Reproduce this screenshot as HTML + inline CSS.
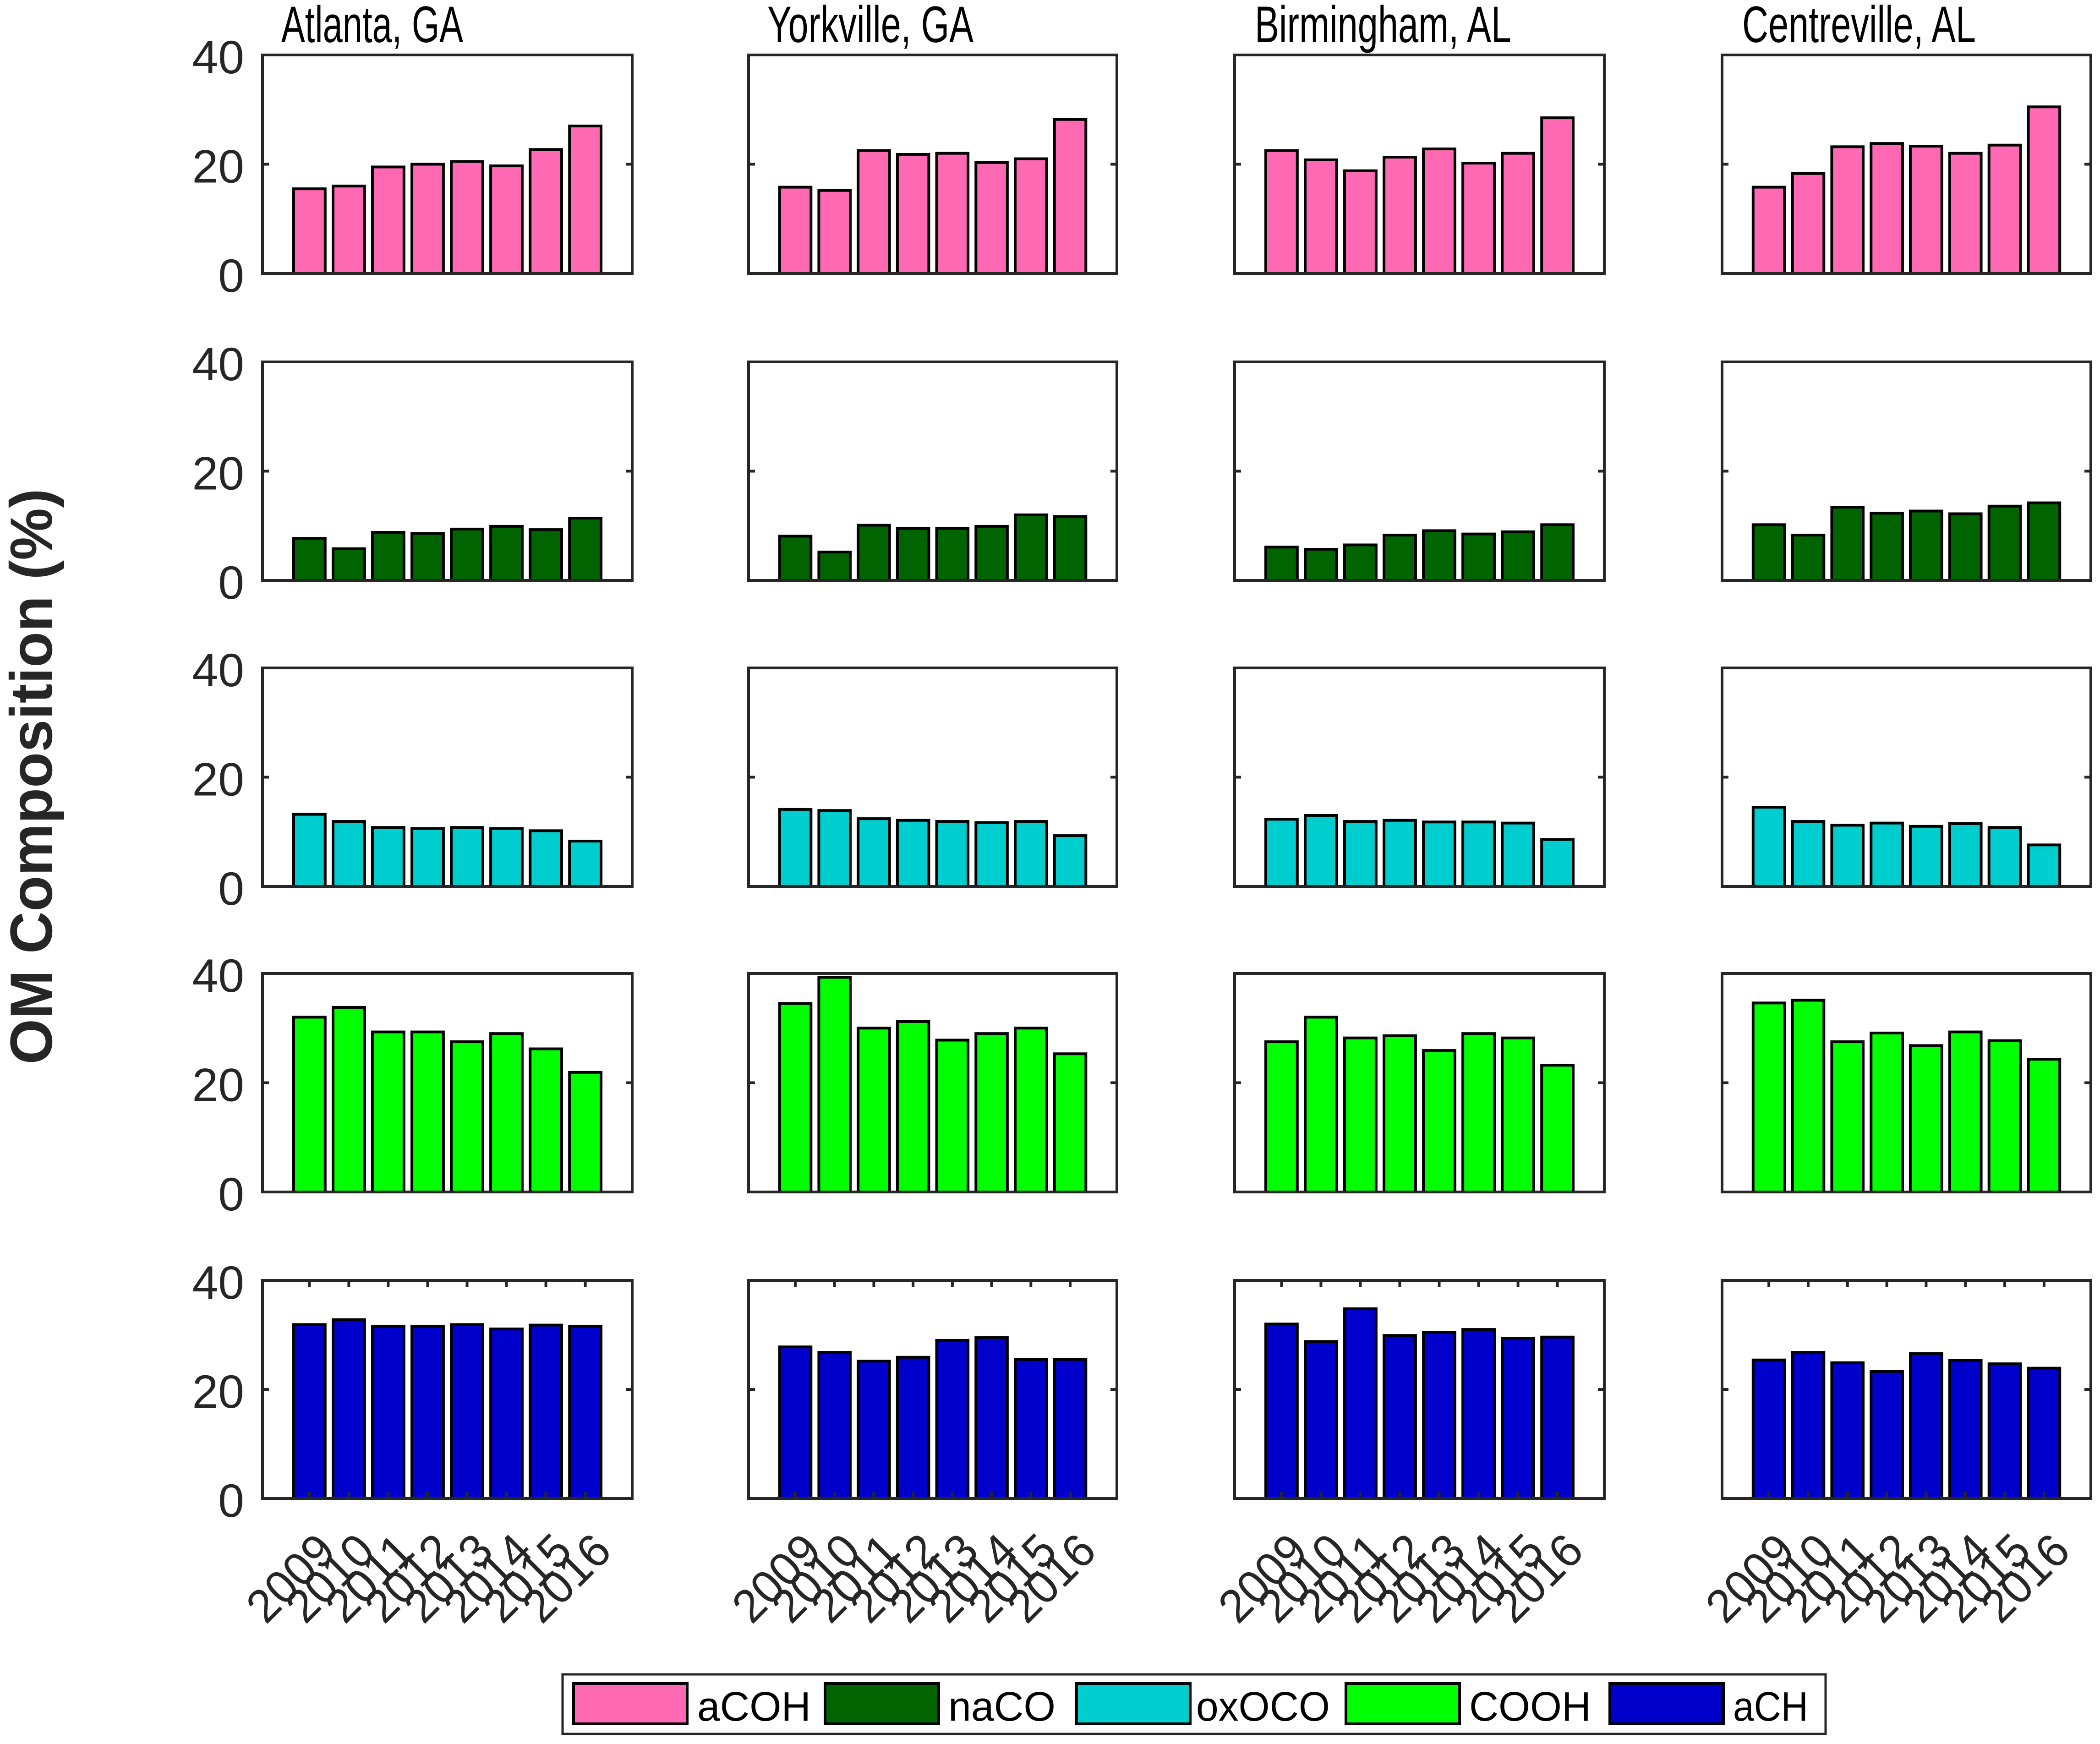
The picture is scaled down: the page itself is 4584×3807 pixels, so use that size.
<!DOCTYPE html>
<html><head><meta charset="utf-8">
<style>
html,body{margin:0;padding:0;background:#fff;}
svg{display:block;font-family:"Liberation Sans",Arial,sans-serif;}
</style></head>
<body>
<svg id="chart" width="4584" height="3807" viewBox="0 0 4584 3807" xmlns="http://www.w3.org/2000/svg">
<text x="0" y="0" transform="translate(113,1695) rotate(-90)" text-anchor="middle" font-size="130" font-weight="bold" fill="#262626" textLength="1257" lengthAdjust="spacingAndGlyphs">OM Composition (%)</text>
<g id="panels"></g>
<g id="legend"></g>
</svg>
<script>
const years = ["2009","2010","2011","2012","2013","2014","2015","2016"];
const sites = ["Atlanta, GA","Yorkville, GA","Birmingham, AL","Centreville, AL"];
const groups = ["aCOH","naCO","oxOCO","COOH","aCH"];
const yTicks = [0,20,40];
const aCOH = [
 [15.5,16,19.5,20,20.5,19.7,22.7,27],
 [15.8,15.2,22.5,21.8,22,20.3,21,28.2],
 [22.5,20.8,18.8,21.3,22.8,20.2,22,28.5],
 [15.8,18.3,23.2,23.8,23.3,22,23.5,30.5]];
const naCO = [
 [7.7,5.8,8.8,8.6,9.4,9.9,9.3,11.4],
 [8.1,5.2,10.1,9.5,9.5,9.9,12,11.7],
 [6.1,5.7,6.5,8.3,9.1,8.5,8.9,10.2],
 [10.2,8.3,13.4,12.3,12.7,12.2,13.6,14.2]];
const oxOCO = [
 [13.2,11.9,10.8,10.6,10.8,10.6,10.2,8.3],
 [14.1,13.9,12.4,12.1,11.9,11.7,11.9,9.3],
 [12.3,13,11.9,12.1,11.8,11.8,11.6,8.6],
 [14.5,11.9,11.2,11.6,11,11.5,10.8,7.6]];
const COOH = [
 [32,33.8,29.3,29.3,27.5,29,26.2,21.9],
 [34.5,39.3,30,31.2,27.8,29,30,25.3],
 [27.5,32,28.2,28.6,25.9,29,28.2,23.2],
 [34.6,35.1,27.5,29.1,26.8,29.3,27.7,24.3]];
const aCH = [
 [31.9,32.8,31.6,31.6,31.9,31.1,31.8,31.6],
 [27.8,26.8,25.2,25.9,29,29.5,25.5,25.5],
 [32,28.8,34.8,29.9,30.5,31,29.4,29.6],
 [25.4,26.8,24.9,23.3,26.6,25.3,24.7,23.9]];
const seriesData = [aCOH,naCO,oxOCO,COOH,aCH];
const colors = ["#ff69b4","#006400","#00cdcd","#00ff00","#0000cd"];

const NS="http://www.w3.org/2000/svg";
function mk(tag,attrs,parent){const e=document.createElementNS(NS,tag);for(const k in attrs)e.setAttribute(k,attrs[k]);parent.appendChild(e);return e;}
const colX=[[573,1380],[1634,2438],[2695,3502],[3759,4564]];
const rowY=[[120,597],[790,1267],[1458,1935],[2125,2602],[2795,3271]];
const XMIN=-0.19, XMAX=9.19, YMAX=40;
const panels=document.getElementById('panels');
for(let r=0;r<5;r++){for(let c=0;c<4;c++){
  const [x0,x1]=colX[c],[y0,y1]=rowY[r];
  const xs=v=>x0+(v-XMIN)/(XMAX-XMIN)*(x1-x0);
  const ys=v=>y1-v/YMAX*(y1-y0);
  const g=mk('g',{},panels);
  
  
  const vals=seriesData[r][c];
  const bw=0.8*(xs(2)-xs(1));
  vals.forEach((v,i)=>{
    const b=mk('rect',{x:xs(i+1)-bw/2,y:ys(v),width:bw,height:ys(0)-ys(v),fill:colors[r],stroke:'#000','stroke-width':6},g);
    
    
  });
  yTicks.forEach(t=>{
    mk('line',{x1:x0,x2:x0+14,y1:ys(t),y2:ys(t),stroke:'#262626','stroke-width':6},g);
    mk('line',{x1:x1,x2:x1-14,y1:ys(t),y2:ys(t),stroke:'#262626','stroke-width':6},g);
    if(c===0){const s=String(t);
      const tl=mk('text',{x:x0-40,y:ys(t)+40,'text-anchor':'end','font-size':102,fill:'#262626'},g);tl.textContent=s;
      
      }
  });
  if(r===4){
    years.forEach((yr,i)=>{
      const tx=xs(i+1);
      mk('line',{x1:tx,x2:tx,y1:y1,y2:y1-14,stroke:'#262626','stroke-width':6},g);
      mk('line',{x1:tx,x2:tx,y1:y0,y2:y0+14,stroke:'#262626','stroke-width':6},g);
      const lx=tx+62, ly=y1+120;
      const tl=mk('text',{x:lx,y:ly,'text-anchor':'end','font-size':102,fill:'#262626',textLength:222,lengthAdjust:'spacingAndGlyphs',transform:`rotate(-45 ${lx} ${ly})`},g);
      tl.textContent=yr;
      
      
    });
  }
  mk('rect',{x:x0,y:y0,width:x1-x0,height:y1-y0,fill:'none',stroke:'#262626','stroke-width':6},g);
  if(r===0){const tt=mk('text',{x:[614,1675,2739,3803][c],y:92,'font-size':112,fill:'#000',textLength:[397,450,560,510][c],lengthAdjust:'spacingAndGlyphs'},g);tt.textContent=sites[c];
    
    }
}}
const lg=document.getElementById('legend');
mk('rect',{x:1228,y:3655,width:2757,height:130,fill:'#fff',stroke:'#262626','stroke-width':5},lg);
const swX=[1252,1801,2350,2938,3514], txX=[1522,2070,2611,3207,3783], txW=[248,234,292,266,164];
groups.forEach((gname,i)=>{
  const s=mk('rect',{x:swX[i],y:3675,width:248,height:88,fill:colors[i],stroke:'#000','stroke-width':6},lg);
  
  
  const t=mk('text',{x:txX[i],y:3756,'font-size':90,fill:'#000',textLength:txW[i],lengthAdjust:'spacingAndGlyphs'},lg);
  t.textContent=gname;
  
  
});
</script>
</body></html>
